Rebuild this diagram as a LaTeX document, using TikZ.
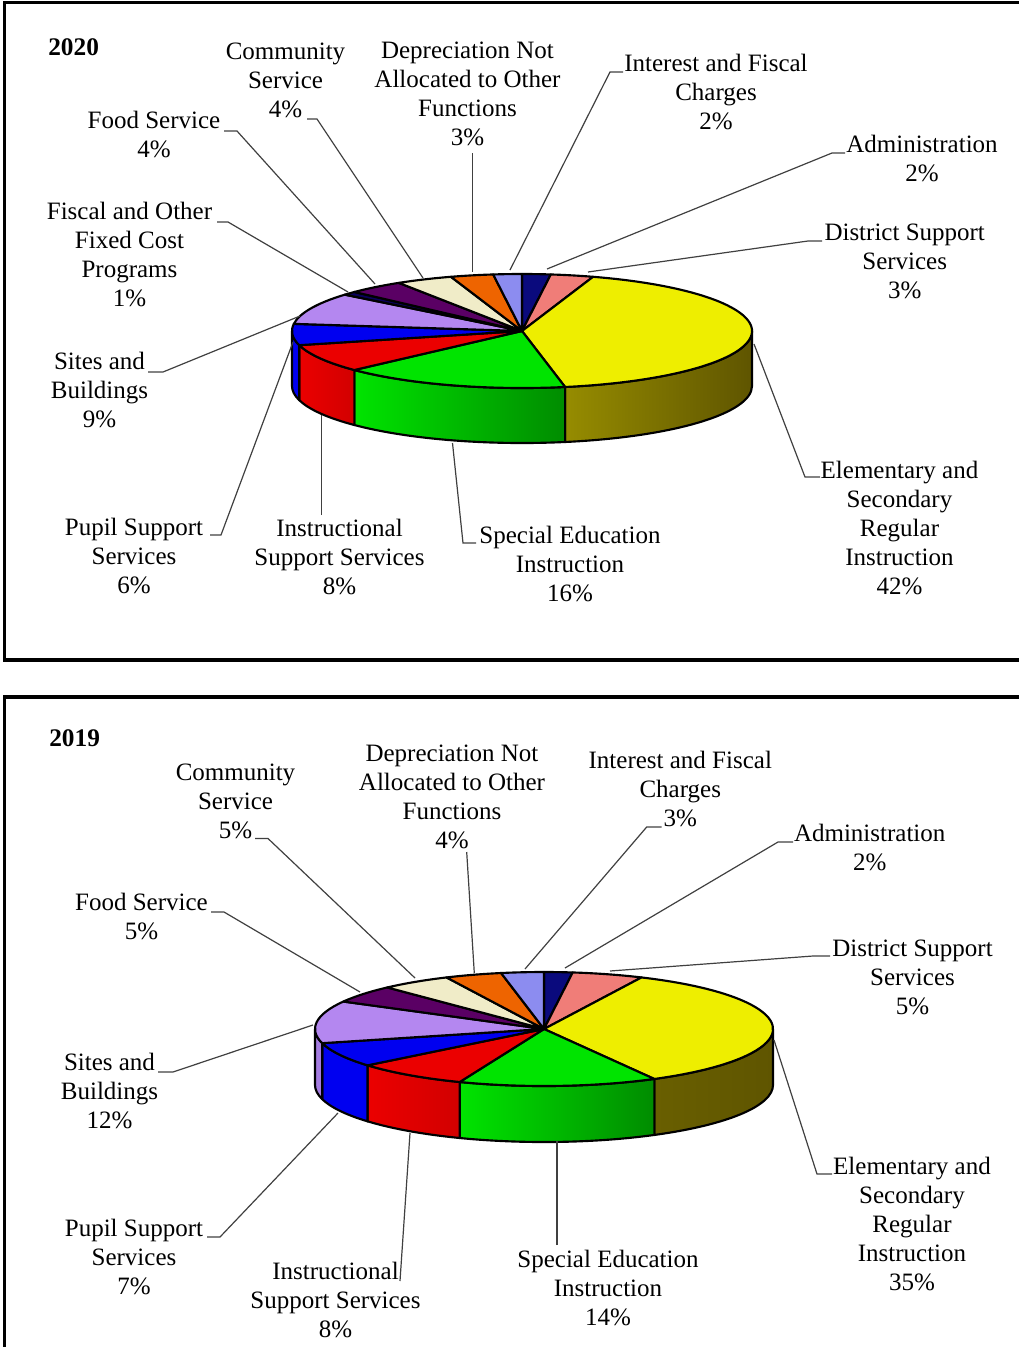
\documentclass[tikz,border=0pt]{standalone}
\usepackage{fontspec}
\setmainfont{Liberation Serif}
\usetikzlibrary{positioning}

% slice colours
\definecolor{admcol}{RGB}{10,10,125}
\definecolor{dstcol}{RGB}{240,125,120}
\definecolor{elecol}{RGB}{238,238,0}
\definecolor{specol}{RGB}{0,228,0}
\definecolor{inscol}{RGB}{235,0,0}
\definecolor{pupcol}{RGB}{0,0,240}
\definecolor{sitcol}{RGB}{180,135,240}
\definecolor{fiscol}{RGB}{10,0,90}
\definecolor{foocol}{RGB}{90,0,100}
\definecolor{comcol}{RGB}{240,236,200}
\definecolor{depcol}{RGB}{238,100,0}
\definecolor{intcol}{RGB}{140,140,240}
% side colours
\definecolor{olivelt}{RGB}{150,140,0}
\definecolor{olivedk}{RGB}{95,85,0}
\definecolor{olivemd}{RGB}{105,95,0}
\definecolor{greendk}{RGB}{0,140,0}
\definecolor{reddk}{RGB}{210,0,0}
\definecolor{sitside}{RGB}{165,125,225}

\tikzset{
  lbl/.style={anchor=south, align=center, inner sep=0pt, font=\fontsize{18.75}{21.75}\selectfont},
  yr/.style={anchor=base west, inner sep=0pt, font=\fontsize{19}{21.75}\selectfont\bfseries},
  leader/.style={draw=black!75, line width=0.9pt},
  wedge/.style={draw=black, line width=1.6pt, line join=round},
  frame/.style={draw=black, line width=2.6pt},
}

\begin{document}
\begin{tikzpicture}[x=0.75pt, y=-0.75pt]
\useasboundingbox (0,0) rectangle (1019,1347);

% frames
\draw[frame] (1019,2.5) -| (4.7,660) -- (1019,660);
\draw[frame] (1019,697) -| (4.7,1347);

% ---------------- 2020 ----------------
\node[yr] (y20) at (48,55) {2020};

\begin{scope}[shift={(522,331)}]
  % front wall
  \foreach \a/\b/\cl/\cr in {90/169.2/olivelt/olivedk, 169.2/226.8/specol/greendk,
      226.8/255.6/inscol/reddk, 255.6/270/pupcol/pupcol}
    \draw[wedge, left color=\cl, right color=\cr]
      ({230*sin(\a)},{-57*cos(\a)}) arc[start angle=\a-90, end angle=\b-90, x radius=230, y radius=57]
      -- ++(0,55) arc[start angle=\b-90, end angle=\a-90, x radius=230, y radius=57] -- cycle;
  % top
  \foreach \a/\b/\c in {0/7.2/admcol, 7.2/18/dstcol, 18/169.2/elecol, 169.2/226.8/specol,
      226.8/255.6/inscol, 255.6/277.2/pupcol, 277.2/309.6/sitcol, 309.6/313.2/fiscol,
      313.2/327.6/foocol, 327.6/342/comcol, 342/352.8/depcol, 352.8/360/intcol}
    \draw[wedge, fill=\c] (0,0) -- ({230*sin(\a)},{-57*cos(\a)})
      arc[start angle=\a-90, end angle=\b-90, x radius=230, y radius=57] -- cycle;
\end{scope}

\node[lbl] (com20) at (285.5,118) {Community\\Service\\4\%};
\node[lbl] (foo20) at (154,158) {Food Service\\4\%};
\node[lbl] (fis20) at (129.5,307) {Fiscal and Other\\Fixed Cost\\Programs\\1\%};
\node[lbl] (dep20) at (467.5,146) {Depreciation Not\\Allocated to Other\\Functions\\3\%};
\node[lbl] (int20) at (716,130) {Interest and Fiscal\\Charges\\2\%};
\node[lbl] (adm20) at (922,181.7) {Administration\\2\%};
\node[lbl] (dst20) at (904.7,299.3) {District Support\\Services\\3\%};
\node[lbl] (sit20) at (99.5,428.3) {Sites and\\Buildings\\9\%};
\node[lbl] (pup20) at (134,594.3) {Pupil Support\\Services\\6\%};
\node[lbl] (ins20) at (339.5,595) {Instructional\\Support Services\\8\%};
\node[lbl] (spe20) at (570,601.7) {Special Education\\Instruction\\16\%};
\node[lbl] (ele20) at (899.5,595) {Elementary and\\Secondary\\Regular\\Instruction\\42\%};

\coordinate (p20com) at (423,278);
\coordinate (p20foo) at (375,284);
\coordinate (p20fis) at (348,292);
\coordinate (p20dep) at (472.7,272);
\coordinate (p20int) at (510,270);
\coordinate (p20adm) at (547,269);
\coordinate (p20dst) at (588,272);
\coordinate (p20sit) at (300,316);
\coordinate (p20pup) at (293,342);
\coordinate (p20ins) at (321.5,415);
\coordinate (p20spe) at (452.5,443);
\coordinate (p20ele) at (754,344);

\draw[leader] (com20.south) ++(21.5,1) -- ++(10,0) -- (p20com);
\draw[leader] (foo20.south) ++(70,-27) -- ++(13,0) -- (p20foo);
\draw[leader] (fis20.south) ++(87.5,-85) -- ++(11,0) -- (p20fis);
\draw[leader] (dep20.south) ++(5.2,7) -- (p20dep);
\draw[leader] (int20.south) ++(-93,-58) -- ++(-13,0) -- (p20int);
\draw[leader] (adm20.south) ++(-77,-28.7) -- ++(-13,0) -- (p20adm);
\draw[leader] (dst20.south) ++(-82.7,-58.3) -- ++(-14,0) -- (p20dst);
\draw[leader] (sit20.south) ++(48.5,-56.3) -- ++(15,0) -- (p20sit);
\draw[leader] (pup20.south) ++(76,-59.3) -- ++(11,0) -- (p20pup);
\draw[leader] (ins20.south) ++(-18,-80) -- (p20ins);
\draw[leader] (spe20.south) ++(-94,-58.7) -- ++(-13,0) -- (p20spe);
\draw[leader] (ele20.south) ++(-79.5,-118) -- ++(-15,0) -- (p20ele);

% ---------------- 2019 ----------------
\node[yr] (y19) at (49,746) {2019};

\begin{scope}[shift={(544,1029)}]
  % front wall
  \foreach \a/\b/\cl/\cr in {90/151.2/olivemd/olivedk, 151.2/201.6/specol/greendk,
      201.6/230.4/inscol/reddk, 230.4/255.6/pupcol/pupcol, 255.6/270/sitside/sitside}
    \draw[wedge, left color=\cl, right color=\cr]
      ({229*sin(\a)},{-57*cos(\a)}) arc[start angle=\a-90, end angle=\b-90, x radius=229, y radius=57]
      -- ++(0,56) arc[start angle=\b-90, end angle=\a-90, x radius=229, y radius=57] -- cycle;
  % top
  \foreach \a/\b/\c in {0/7.2/admcol, 7.2/25.2/dstcol, 25.2/151.2/elecol, 151.2/201.6/specol,
      201.6/230.4/inscol, 230.4/255.6/pupcol, 255.6/298.8/sitcol, 298.8/316.8/foocol,
      316.8/334.8/comcol, 334.8/349.2/depcol, 349.2/360/intcol}
    \draw[wedge, fill=\c] (0,0) -- ({229*sin(\a)},{-57*cos(\a)})
      arc[start angle=\a-90, end angle=\b-90, x radius=229, y radius=57] -- cycle;
\end{scope}

\node[lbl] (com19) at (235.5,839.3) {Community\\Service\\5\%};
\node[lbl] (foo19) at (141.5,940) {Food Service\\5\%};
\node[lbl] (dep19) at (452,849.3) {Depreciation Not\\Allocated to Other\\Functions\\4\%};
\node[lbl] (int19) at (680.3,827.3) {Interest and Fiscal\\Charges\\3\%};
\node[lbl] (adm19) at (869.7,870.7) {Administration\\2\%};
\node[lbl] (dst19) at (912.5,1015) {District Support\\Services\\5\%};
\node[lbl] (sit19) at (109.5,1129.3) {Sites and\\Buildings\\12\%};
\node[lbl] (pup19) at (134,1295) {Pupil Support\\Services\\7\%};
\node[lbl] (ins19) at (335.5,1338.3) {Instructional\\Support Services\\8\%};
\node[lbl] (spe19) at (608,1326) {Special Education\\Instruction\\14\%};
\node[lbl] (ele19) at (912,1291) {Elementary and\\Secondary\\Regular\\Instruction\\35\%};

\coordinate (p19com) at (415,978);
\coordinate (p19foo) at (360,992);
\coordinate (p19dep) at (474.3,973);
\coordinate (p19int) at (525,969);
\coordinate (p19adm) at (565,968);
\coordinate (p19dst) at (610,971);
\coordinate (p19sit) at (313,1025);
\coordinate (p19pup) at (338,1113);
\coordinate (p19ins) at (410,1133);
\coordinate (p19spe) at (557,1141);
\coordinate (p19ele) at (774,1040);

\draw[leader] (com19.south) ++(19.5,-0.8) -- ++(13,0) -- (p19com);
\draw[leader] (foo19.south) ++(69.5,-28) -- ++(13,0) -- (p19foo);
\draw[leader] (dep19.south) ++(14.7,2.7) -- (p19dep);
\draw[leader] (int19.south) ++(-18.6,-0.3) -- ++(-15,0) -- (p19int);
\draw[leader] (adm19.south) ++(-76.7,-28.7) -- ++(-15,0) -- (p19adm);
\draw[leader] (dst19.south) ++(-82.5,-59) -- ++(-17,0) -- (p19dst);
\draw[leader] (sit19.south) ++(48.5,-57.3) -- ++(15,0) -- (p19sit);
\draw[leader] (pup19.south) ++(73,-58) -- ++(13,0) -- (p19pup);
\draw[leader] (ins19.south) ++(64.5,-57.3) -- (p19ins);
\draw[leader] (spe19.south) ++(-51,-81) -- (p19spe);
\draw[leader] (ele19.south) ++(-80,-117) -- ++(-15,0) -- (p19ele);

\end{tikzpicture}
\end{document}
